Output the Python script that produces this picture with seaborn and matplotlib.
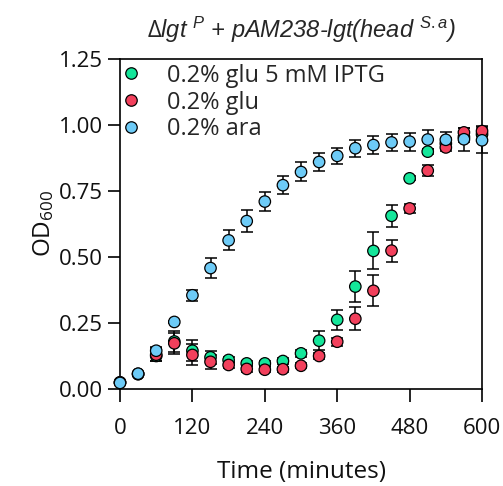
import matplotlib
matplotlib.use("Agg")
import matplotlib.pyplot as plt
import seaborn as sns
import pandas as pd

# Growth curve: OD600 over time for three induction conditions
time_min = [0, 30, 60, 90, 120, 150, 180, 210, 240, 270, 300,
            330, 360, 390, 420, 450, 480, 510, 540, 570, 600]

glu_iptg = [0.025, 0.057, 0.125, 0.180, 0.145, 0.120, 0.110, 0.097, 0.097, 0.106, 0.135,
            0.183, 0.262, 0.388, 0.523, 0.656, 0.798, 0.899, 0.930, 0.955, 0.965]
glu_iptg_err = [0.005, 0.005, 0.020, 0.040, 0.040, 0.025, 0.010, 0.010, 0.010, 0.010, 0.012,
                0.036, 0.038, 0.058, 0.070, 0.042, 0.008, 0.010, 0.020, 0.020, 0.020]

glu = [0.025, 0.056, 0.130, 0.173, 0.129, 0.103, 0.091, 0.076, 0.073, 0.075, 0.088,
       0.125, 0.179, 0.266, 0.372, 0.524, 0.684, 0.827, 0.915, 0.972, 0.977]
glu_err = [0.005, 0.005, 0.025, 0.040, 0.040, 0.027, 0.010, 0.010, 0.010, 0.010, 0.010,
           0.012, 0.015, 0.043, 0.059, 0.042, 0.018, 0.021, 0.015, 0.015, 0.020]

ara = [0.023, 0.058, 0.145, 0.254, 0.355, 0.458, 0.563, 0.636, 0.710, 0.772, 0.822,
       0.860, 0.883, 0.912, 0.924, 0.934, 0.937, 0.945, 0.944, 0.946, 0.942]
ara_err = [0.004, 0.005, 0.015, 0.005, 0.020, 0.038, 0.038, 0.042, 0.035, 0.035, 0.036,
           0.035, 0.031, 0.032, 0.033, 0.032, 0.034, 0.036, 0.030, 0.043, 0.049]

conditions = ["0.2% glu 5 mM IPTG", "0.2% glu", "0.2% ara"]
colors = ["#14E69A", "#F2405C", "#6DCBF7"]

frames = []
for name, vals, errs in zip(conditions, [glu_iptg, glu, ara], [glu_iptg_err, glu_err, ara_err]):
    frames.append(pd.DataFrame({"time": time_min, "od": vals, "err": errs, "condition": name}))
df = pd.concat(frames, ignore_index=True)

sns.set_theme(style="ticks")
plt.rcParams["font.family"] = ["Open Sans", "DejaVu Sans"]
plt.rcParams["mathtext.fontset"] = "custom"
plt.rcParams["mathtext.rm"] = "Open Sans"
plt.rcParams["mathtext.it"] = "Liberation Sans:italic"

fig = plt.figure(figsize=(5.03, 4.86), dpi=100)
ax = fig.add_axes([0.2386, 0.1996, 0.7197, 0.6790])

# error bars behind the markers
for name in conditions:
    sub = df[df["condition"] == name]
    ax.errorbar(sub["time"], sub["od"], yerr=sub["err"], fmt="none",
                ecolor="black", elinewidth=1.1, capsize=4.2, capthick=1.1,
                zorder=2, clip_on=False)

sns.scatterplot(data=df, x="time", y="od", hue="condition", hue_order=conditions,
                palette=colors, s=68, edgecolor="black", linewidth=0.9,
                zorder=3, clip_on=False, ax=ax)

ax.set_xlim(0, 600)
ax.set_ylim(0, 1.25)
ax.set_xticks([0, 120, 240, 360, 480, 600])
ax.set_yticks([0.00, 0.25, 0.50, 0.75, 1.00, 1.25])
ax.set_yticklabels(["0.00", "0.25", "0.50", "0.75", "1.00", "1.25"])

for sp in ax.spines.values():
    sp.set_linewidth(1.2)
    sp.set_color("black")
ax.tick_params(axis="both", direction="out", length=9, width=1.2, color="black",
               labelsize=16, labelcolor="#111111")
ax.tick_params(axis="x", pad=12)
ax.tick_params(axis="y", pad=3.5)

ax.set_xlabel("Time (minutes)", fontsize=17.5, labelpad=15, color="#111111")
ax.set_ylabel("OD$_{600}$", fontsize=17.5, labelpad=1.5, color="#111111")

ax.set_title(r"$\Delta$lgt $^{P}$ + pAM238-lgt(head $^{S.a}$)",
             fontsize=17, fontstyle="italic", family=["Liberation Sans"], pad=15)

leg = ax.legend(loc="upper left", frameon=False, fontsize=17,
                handletextpad=1.3, borderaxespad=0.1, labelspacing=0.12,
                borderpad=0.1, handlelength=0.5)
for h in leg.legend_handles:
    h.set_markeredgecolor("black")
    h.set_markeredgewidth(0.9)

fig.savefig("out.png", dpi=100)
